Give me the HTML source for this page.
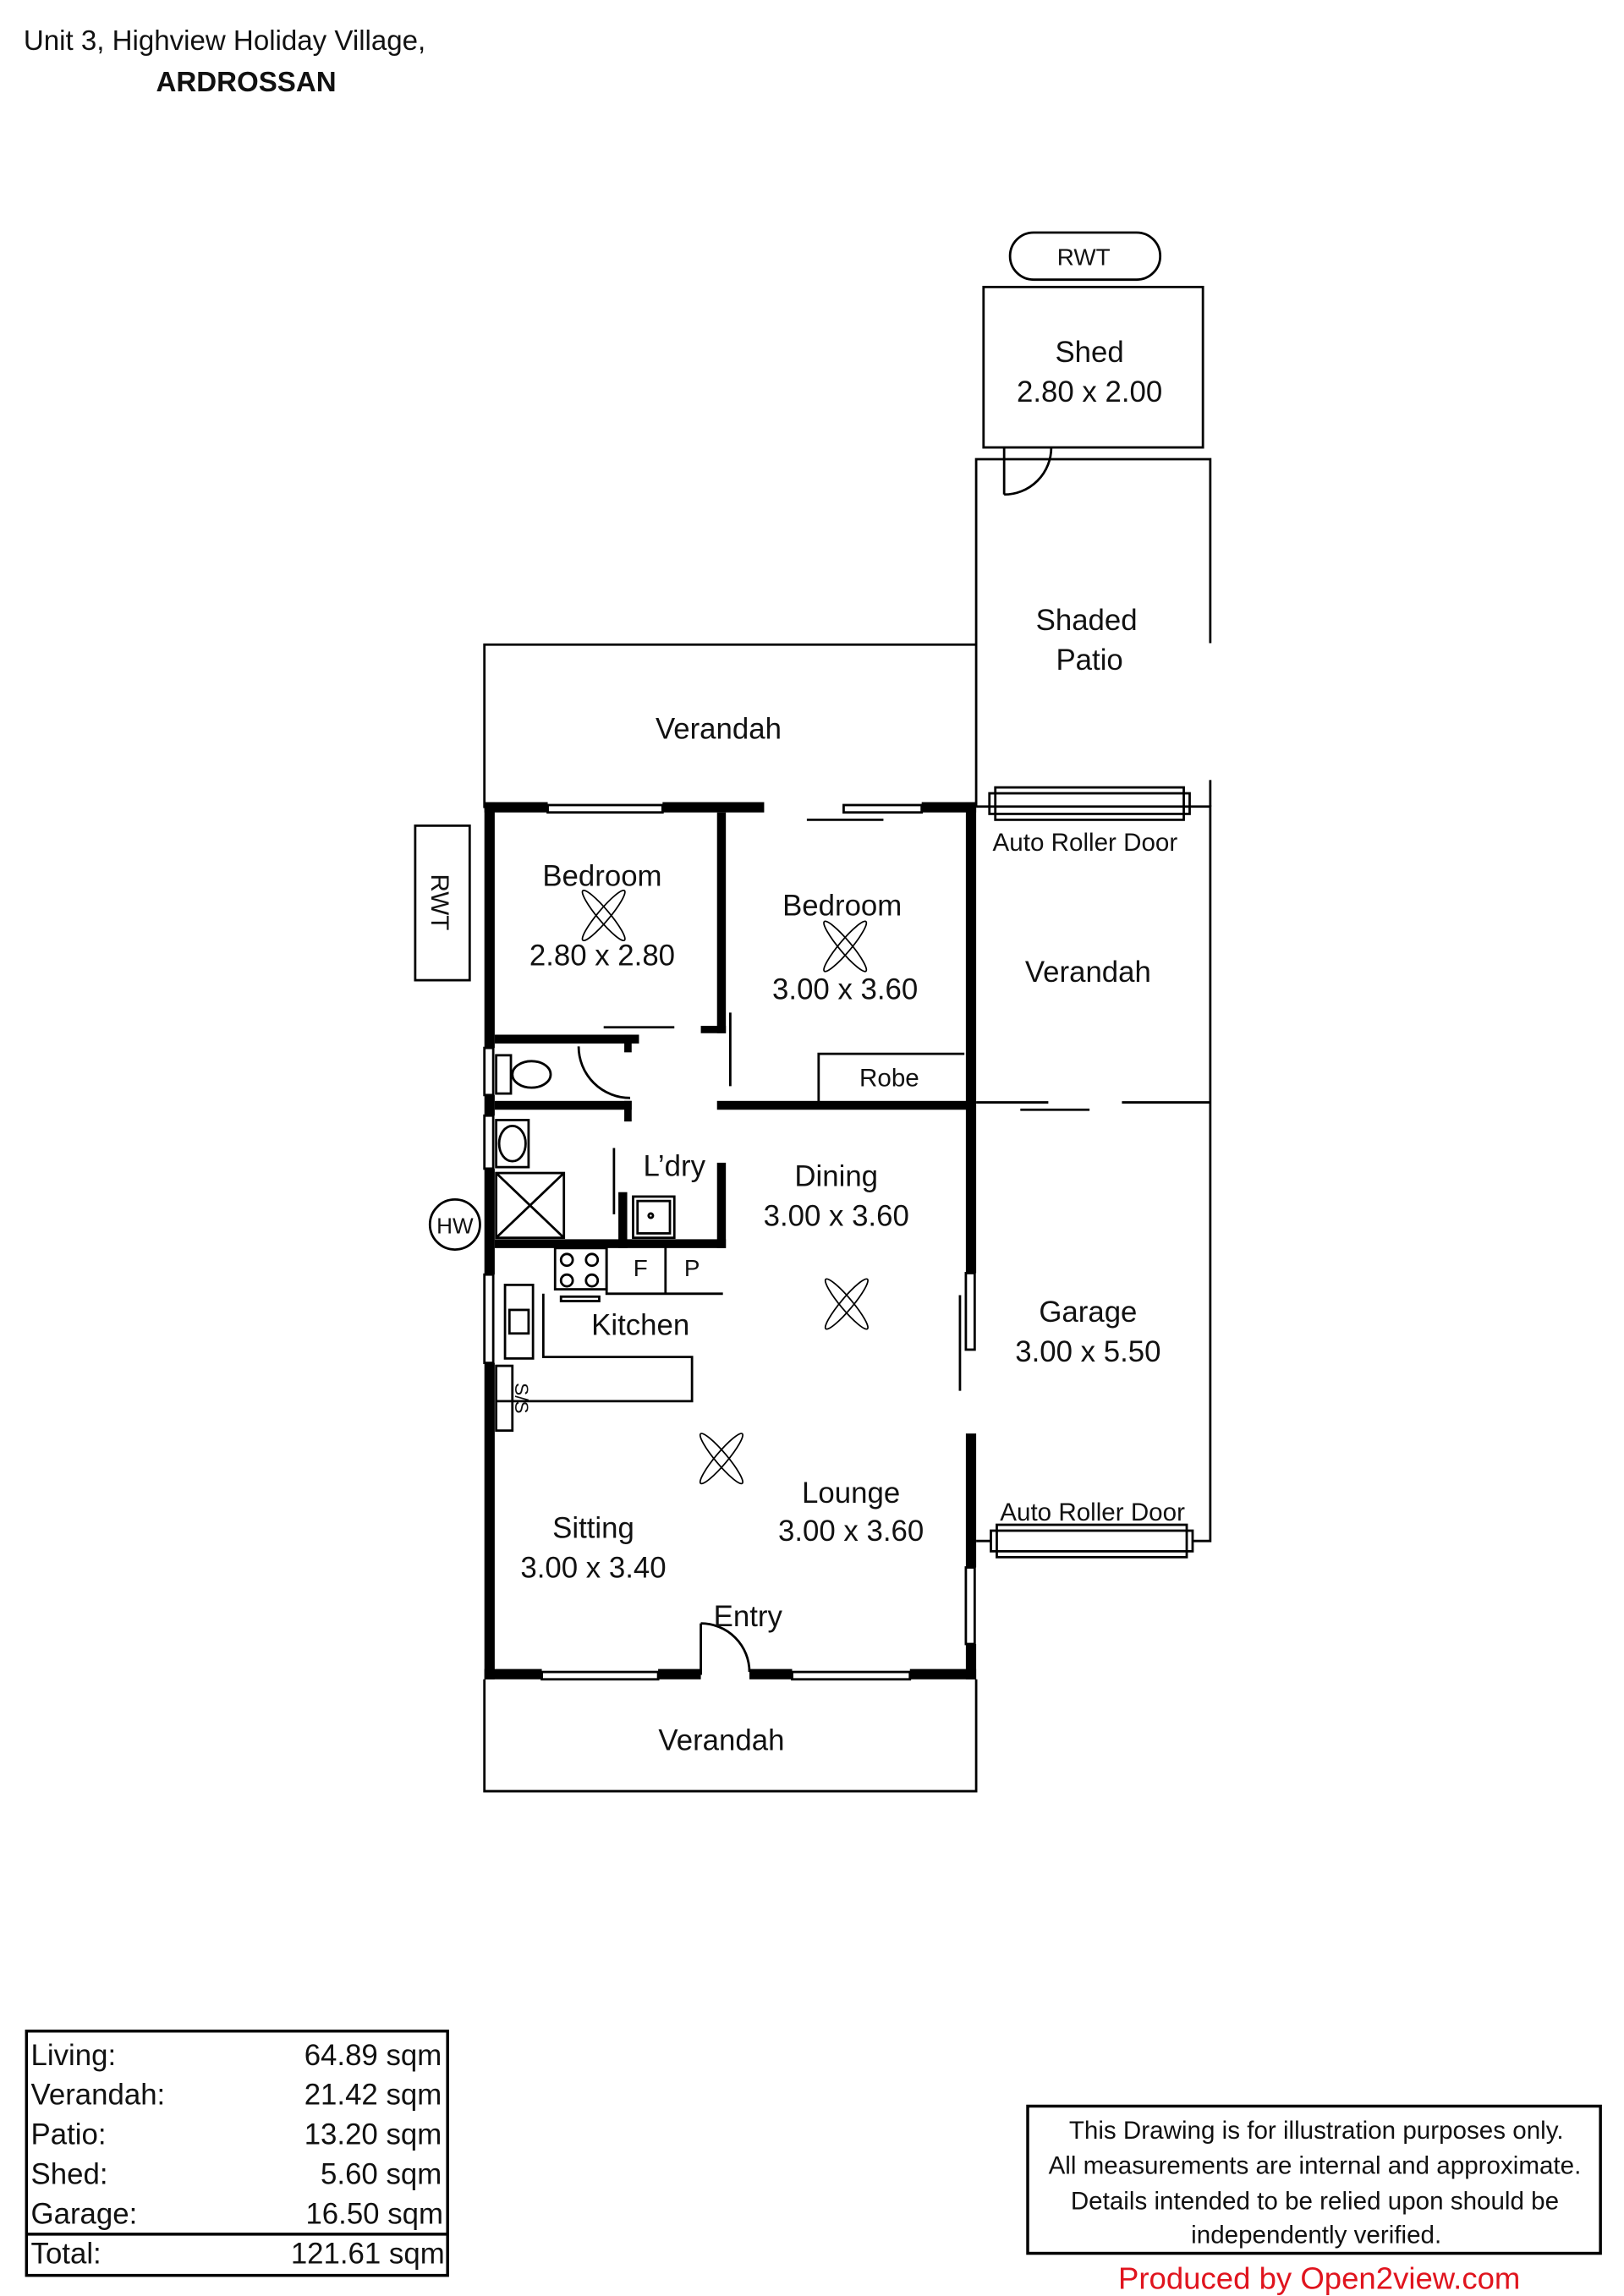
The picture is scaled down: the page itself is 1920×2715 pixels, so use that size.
<!DOCTYPE html>
<html><head><meta charset="utf-8"><style>html,body{margin:0;padding:0;background:#fff}svg{display:block}text{font-family:"Liberation Sans",sans-serif;fill:#111}</style></head>
<body>
<svg width="1920" height="2715" viewBox="0 0 1103 1560" preserveAspectRatio="none" xmlns="http://www.w3.org/2000/svg">
<rect width="1103" height="1560" fill="#fff"/>
<text x="16" y="34" font-size="19">Unit 3, Highview Holiday Village,</text>
<text x="106" y="62" font-size="19" font-weight="bold">ARDROSSAN</text>

<g fill="none" stroke="#000" stroke-width="1.6">
<!-- RWT top -->
<rect x="686" y="158" width="102" height="32" rx="16"/>
<!-- shed -->
<rect x="668" y="195" width="149" height="109"/>
<path d="M682 304 V336 M682 336 A32 32 0 0 0 714 304"/>
<!-- shaded patio -->
<path d="M663 548 V312 H822 V437 M822 530 V548"/>
<!-- top verandah -->
<path d="M329 549 V438 H663"/>
<!-- right verandah/garage -->
<path d="M663 548 H822 V1047 H810"/>
<path d="M663 749 H712 M762 749 H822 M693 754 H740"/>
<!-- roller doors -->
<rect x="672" y="539" width="136" height="14"/><rect x="676" y="535" width="128" height="22"/>
<rect x="673" y="1040" width="137" height="14"/><rect x="677" y="1036" width="129" height="22"/>
<path d="M663 1047 H673"/>
<!-- bottom verandah -->
<path d="M329 1141 V1217 H663 V1141"/>
<!-- RWT left -->
<rect x="282" y="561" width="37" height="105"/>
<circle cx="309" cy="832" r="17"/>
<!-- robe -->
<path d="M556 751 V716 H655"/>
<!-- shower -->
<rect x="337" y="797" width="46" height="44"/><path d="M337 797 L383 841 M383 797 L337 841"/>
<!-- sink laundry -->
<rect x="430" y="813" width="28" height="28"/><rect x="433" y="816" width="22" height="22"/><circle cx="442" cy="826" r="1.5"/>
<!-- vanity -->
<rect x="337" y="761" width="22" height="32"/><ellipse cx="348" cy="777" rx="9" ry="12"/>
<!-- toilet -->
<rect x="337" y="717" width="10" height="26"/><ellipse cx="361" cy="730" rx="13" ry="9"/>
<!-- thin lines -->
<path d="M410 698 H458 M496 688 V738 M417 780 V825 M548 557 H600 M652 880 V945"/>
<!-- WC door arc -->
<path d="M393 711 A35 35 0 0 0 428 746"/>
<!-- kitchen -->
<rect x="377" y="848" width="35" height="28"/>
<circle cx="385" cy="856" r="4"/><circle cx="402" cy="856" r="4"/><circle cx="385" cy="870" r="4"/><circle cx="402" cy="870" r="4"/>
<path d="M412 846 V879 H491 M452 846 V879"/>
<path d="M369 879 V922 H470 V952 H337"/>
<rect x="381" y="881" width="26" height="3"/>
<rect x="343" y="873" width="19" height="50"/><rect x="346" y="890" width="13" height="16"/>
<rect x="337" y="928" width="11" height="44"/>
<!-- entry door -->
<path d="M476 1103 V1138 M476 1103 A33 33 0 0 1 509 1136"/>
<!-- windows -->
<rect x="372" y="547" width="78" height="5"/><rect x="573" y="547" width="53" height="5"/>
<rect x="368" y="1136" width="79" height="5"/><rect x="538" y="1136" width="80" height="5"/>
<rect x="656" y="865" width="6" height="52"/><rect x="656" y="1065" width="6" height="52"/>
<rect x="329" y="712" width="6" height="32"/><rect x="329" y="758" width="6" height="36"/><rect x="329" y="866" width="6" height="60"/>
</g>

<!-- thick walls -->
<g fill="#000">
<rect x="329" y="545" width="43" height="7"/><rect x="450" y="545" width="69" height="7"/><rect x="626" y="545" width="37" height="7"/>
<rect x="329" y="545" width="7" height="167"/><rect x="329" y="744" width="7" height="14"/><rect x="329" y="794" width="7" height="72"/><rect x="329" y="926" width="7" height="215"/>
<rect x="656" y="545" width="7" height="320"/><rect x="656" y="974" width="7" height="91"/><rect x="656" y="1117" width="7" height="24"/>
<rect x="329" y="1134" width="39" height="7"/><rect x="447" y="1134" width="29" height="7"/><rect x="509" y="1134" width="29" height="7"/><rect x="618" y="1134" width="45" height="7"/>
<rect x="487" y="552" width="6" height="150"/><rect x="476" y="697" width="17" height="5"/>
<rect x="336" y="703" width="98" height="6"/><rect x="424" y="703" width="5" height="12"/>
<rect x="336" y="748" width="93" height="6"/><rect x="424" y="748" width="5" height="14"/>
<rect x="487" y="748" width="172" height="6"/>
<rect x="487" y="790" width="6" height="58"/><rect x="420" y="810" width="6" height="38"/>
<rect x="336" y="842" width="157" height="6"/>
</g>

<!-- fans -->
<g fill="none" stroke="#000" stroke-width="1">
<g transform="translate(410,622)"><ellipse rx="22" ry="4" transform="rotate(50)"/><ellipse rx="22" ry="4" transform="rotate(-50)"/></g>
<g transform="translate(574,643)"><ellipse rx="22" ry="4" transform="rotate(50)"/><ellipse rx="22" ry="4" transform="rotate(-50)"/></g>
<g transform="translate(575,886)"><ellipse rx="22" ry="4" transform="rotate(50)"/><ellipse rx="22" ry="4" transform="rotate(-50)"/></g>
<g transform="translate(490,991)"><ellipse rx="22" ry="4" transform="rotate(50)"/><ellipse rx="22" ry="4" transform="rotate(-50)"/></g>
</g>

<g font-size="20" text-anchor="middle">
<text x="736" y="180" font-size="16">RWT</text>
<text x="740" y="246">Shed</text><text x="740" y="273">2.80 x 2.00</text>
<text x="738" y="428">Shaded</text><text x="740" y="455">Patio</text>
<text x="488" y="502">Verandah</text>
<text x="737" y="578" font-size="17">Auto Roller Door</text>
<text x="409" y="602">Bedroom</text><text x="409" y="656">2.80 x 2.80</text>
<text x="572" y="622">Bedroom</text><text x="574" y="679">3.00 x 3.60</text>
<text x="739" y="667">Verandah</text>
<text x="604" y="738" font-size="17">Robe</text>
<text x="458" y="799">L’dry</text>
<text x="568" y="806">Dining</text><text x="568" y="833">3.00 x 3.60</text>
<text x="435" y="867" font-size="16">F</text><text x="470" y="867" font-size="16">P</text>
<text x="435" y="907">Kitchen</text>
<text x="739" y="898">Garage</text><text x="739" y="925">3.00 x 5.50</text>
<text x="578" y="1021">Lounge</text><text x="578" y="1047">3.00 x 3.60</text>
<text x="742" y="1033" font-size="17">Auto Roller Door</text>
<text x="403" y="1045">Sitting</text><text x="403" y="1072">3.00 x 3.40</text>
<text x="508" y="1105">Entry</text>
<text x="490" y="1189">Verandah</text>
<text x="309" y="838" font-size="15">HW</text>
</g>
<text x="0" y="0" font-size="17" transform="translate(293,613) rotate(90)" text-anchor="middle">RWT</text>
<text x="0" y="0" font-size="13" transform="translate(350,950) rotate(90)" text-anchor="middle">S/S</text>

<!-- area table -->
<rect x="18" y="1380" width="286" height="166" fill="none" stroke="#000" stroke-width="2"/>
<line x1="18" y1="1518" x2="304" y2="1518" stroke="#000" stroke-width="2"/>
<g font-size="20">
<text x="21" y="1403">Living:</text><text x="21" y="1430">Verandah:</text><text x="21" y="1457">Patio:</text><text x="21" y="1484">Shed:</text><text x="21" y="1511">Garage:</text><text x="21" y="1538">Total:</text>
</g>
<g font-size="20" text-anchor="end">
<text x="300" y="1403">64.89 sqm</text><text x="300" y="1430">21.42 sqm</text><text x="300" y="1457">13.20 sqm</text><text x="300" y="1484">5.60 sqm</text><text x="301" y="1511">16.50 sqm</text><text x="302" y="1538">121.61 sqm</text>
</g>
<rect x="698" y="1431" width="389" height="100" fill="none" stroke="#000" stroke-width="2"/>
<g font-size="17" text-anchor="middle">
<text x="894" y="1453">This Drawing is for illustration purposes only.</text>
<text x="893" y="1477">All measurements are internal and  approximate.</text>
<text x="893" y="1501">Details intended to be relied upon should be</text>
<text x="894" y="1524">independently verified.</text>
</g>
<text x="896" y="1555" font-size="21" text-anchor="middle" style="fill:#e0141e">Produced by Open2view.com</text>
</svg>
</body></html>
